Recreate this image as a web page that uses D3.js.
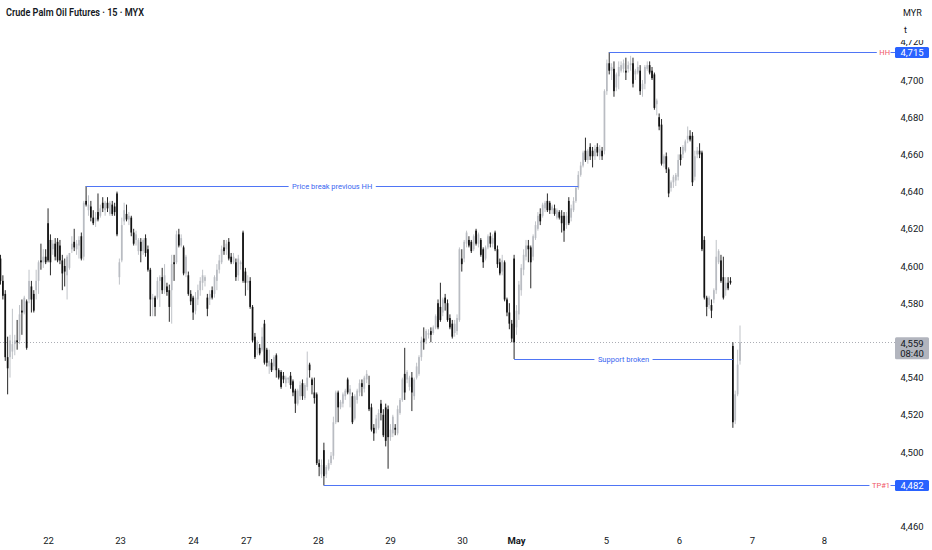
<!DOCTYPE html>
<html lang="en">
<head>
  <meta charset="UTF-8">
  <title>Crude Palm Oil Futures · 15 · MYX</title>
  <script src="https://d3js.org/d3.v7.min.js"></script>
  <style>
    body { margin: 0; background: #fff; }
    svg text { font-family: Roboto, "Noto Sans", sans-serif; }
    .axis path.domain { display: none; }
    .axis text { fill: #131722; font-size: 9.5px; }
  </style>
</head>
<body>
<svg id="chart" width="932" height="550"></svg>
<script>
  // 15 minute bars, each one [open, high, low, close] in MYR
  const apr21 = [
    [4604,4606,4590,4592],[4592,4595,4582,4584],[4585,4587,4549,4551],[4551,4562,4531,4545],[4551,4563,4540,4560],
    [4554,4577,4550,4558],[4558,4563,4552,4560],[4560,4571,4555,4559],[4560,4579,4558,4574],[4576,4582,4563,4575],
    [4575,4584,4574,4583],[4581,4582,4555,4556],[4582,4598,4580,4592],[4589,4592,4575,4582],[4585,4587,4575,4576],
    [4587,4598,4582,4592],[4592,4603,4585,4602],[4603,4612,4598,4602],[4602,4609,4599,4605],[4605,4609,4601,4602]
  ];
  const apr22 = [
    [4623,4631,4602,4603],[4614,4617,4595,4602],[4609,4614,4606,4612],[4612,4615,4603,4605],[4613,4615,4602,4603],
    [4611,4614,4601,4603],[4603,4606,4587,4596],[4600,4604,4589,4597],[4595,4606,4582,4605],[4599,4607,4598,4607],
    [4609,4616,4607,4612],[4613,4620,4608,4610],[4609,4614,4606,4612],[4611,4616,4604,4614],[4616,4618,4603,4604],
    [4605,4635,4603,4634],[4635,4643,4632,4633],[4630,4638,4627,4633],[4632,4635,4624,4626],[4626,4630,4622,4623],
    [4624,4629,4621,4626],[4629,4639,4624,4625],[4627,4633,4626,4631],[4634,4637,4629,4631],[4630,4635,4627,4634],
    [4634,4637,4629,4631],[4628,4635,4627,4634],[4633,4635,4627,4628],[4632,4634,4627,4629],[4639,4640,4616,4617]
  ];
  const apr23 = [
    [4594,4604,4590,4602],[4603,4626,4602,4622],[4624,4634,4622,4630],[4628,4633,4624,4625],[4625,4629,4622,4627],
    [4626,4627,4616,4618],[4618,4620,4611,4612],[4614,4619,4611,4617],[4608,4615,4606,4614],[4613,4615,4602,4608],
    [4608,4615,4606,4614],[4615,4617,4605,4607],[4609,4611,4597,4598],[4598,4599,4573,4582],[4582,4585,4573,4583],
    [4583,4584,4573,4578],[4583,4594,4582,4592],[4592,4595,4578,4594],[4594,4599,4585,4587],[4587,4601,4585,4595],
    [4589,4591,4584,4586],[4587,4590,4570,4578],[4587,4606,4569,4601],[4602,4606,4592,4601],[4602,4619,4601,4617],
    [4617,4620,4610,4611],[4611,4617,4610,4615],[4610,4611,4595,4596],[4596,4606,4594,4605],[4595,4597,4584,4585]
  ];
  const apr24 = [
    [4585,4587,4579,4581],[4583,4584,4571,4575],[4576,4586,4574,4583],[4582,4590,4579,4587],[4587,4594,4584,4592],
    [4591,4598,4587,4595],[4592,4595,4589,4594],[4583,4585,4573,4577],[4582,4587,4579,4585],[4587,4589,4582,4583],
    [4585,4595,4583,4594],[4592,4601,4587,4598],[4598,4606,4596,4603],[4602,4611,4601,4609],[4610,4614,4606,4608],
    [4609,4614,4606,4612],[4613,4615,4603,4604],[4605,4607,4601,4602],[4602,4607,4601,4605],[4602,4604,4592,4594],
    [4595,4606,4592,4604],[4601,4603,4598,4602]
  ];
  const apr27 = [
    [4618,4619,4591,4592],[4597,4599,4584,4591],[4591,4595,4587,4592],[4592,4594,4577,4578],[4578,4579,4559,4560],
    [4562,4564,4550,4551],[4555,4560,4552,4559],[4556,4558,4552,4553],[4555,4567,4554,4562],[4569,4571,4547,4548],
    [4555,4556,4546,4548],[4546,4555,4542,4549],[4548,4550,4543,4544],[4546,4552,4544,4551],[4552,4553,4540,4544],
    [4544,4545,4539,4540],[4543,4544,4534,4535],[4541,4543,4537,4539],[4537,4541,4535,4540],[4539,4540,4537,4540],
    [4541,4543,4534,4536],[4538,4539,4530,4532],[4533,4534,4521,4526],[4526,4534,4525,4533],[4530,4538,4528,4536],
    [4537,4539,4528,4530],[4529,4537,4528,4536],[4535,4554,4533,4540],[4547,4548,4540,4544],[4539,4540,4531,4536]
  ];
  const apr28 = [
    [4532,4540,4526,4529],[4531,4532,4493,4494],[4494,4496,4487,4492],[4488,4496,4486,4493],[4501,4505,4482,4487],
    [4488,4493,4486,4492],[4491,4496,4490,4494],[4494,4500,4493,4498],[4498,4519,4496,4516],[4516,4533,4515,4532],
    [4532,4533,4516,4524],[4524,4528,4523,4527],[4526,4532,4524,4531],[4530,4534,4528,4533],[4539,4540,4531,4532],
    [4531,4536,4524,4534],[4530,4532,4515,4516],[4518,4531,4517,4530],[4528,4534,4526,4533],[4532,4539,4530,4537],
    [4537,4539,4530,4535],[4534,4541,4532,4540],[4539,4544,4537,4542],[4536,4541,4522,4523],[4524,4526,4511,4512],
    [4513,4515,4506,4510],[4512,4520,4510,4518],[4513,4523,4512,4521],[4526,4528,4517,4521],[4520,4523,4508,4509],
    [4524,4526,4503,4506]
  ];
  const apr29 = [
    [4523,4525,4491,4508],[4508,4515,4506,4512],[4510,4520,4508,4519],[4513,4515,4509,4512],[4510,4525,4509,4523],
    [4521,4529,4520,4528],[4528,4540,4527,4539],[4542,4556,4528,4532],[4539,4544,4537,4543],[4535,4541,4533,4540],
    [4540,4543,4522,4532],[4530,4540,4528,4539],[4540,4548,4539,4546],[4542,4552,4541,4551],[4551,4562,4549,4560],
    [4561,4567,4555,4559],[4560,4566,4558,4565],[4563,4566,4561,4564],[4565,4567,4559,4563],[4564,4568,4563,4567],
    [4567,4574,4566,4573],[4580,4582,4566,4567],[4578,4591,4570,4571],[4575,4583,4573,4582],[4583,4585,4576,4580],
    [4580,4582,4570,4571],[4572,4574,4566,4567],[4569,4571,4561,4562],[4564,4571,4562,4569],[4565,4574,4563,4572]
  ];
  const apr30 = [
    [4571,4610,4570,4609],[4604,4609,4597,4601],[4604,4614,4602,4613],[4612,4619,4610,4618],[4614,4616,4610,4611],
    [4613,4614,4607,4608],[4609,4617,4608,4616],[4619,4620,4611,4612],[4612,4618,4610,4617],[4614,4615,4605,4606],
    [4609,4610,4599,4602],[4604,4611,4603,4610],[4610,4617,4609,4616],[4616,4618,4610,4612],[4612,4617,4610,4615],
    [4618,4619,4608,4609],[4609,4611,4599,4601],[4602,4604,4595,4596],[4597,4606,4595,4603],[4602,4603,4581,4582],
    [4582,4583,4573,4575],[4575,4580,4566,4569],[4569,4571,4559,4561]
  ];
  const may2 = [
    [4604,4606,4550,4559],[4567,4579,4563,4576],[4574,4592,4571,4590],[4587,4601,4584,4599],[4598,4609,4595,4606],
    [4605,4614,4603,4611],[4611,4614,4602,4609],[4610,4611,4588,4602],[4605,4617,4603,4616],[4615,4624,4614,4622],
    [4620,4629,4619,4627],[4628,4631,4622,4624],[4627,4634,4626,4633],[4631,4635,4629,4634],[4635,4639,4629,4630],
    [4634,4635,4628,4630],[4630,4633,4628,4632],[4631,4633,4627,4628],[4626,4631,4625,4630],[4629,4630,4625,4626],
    [4627,4630,4618,4623],[4627,4629,4613,4619],[4622,4629,4620,4627],[4635,4637,4622,4623],[4626,4633,4624,4631],
    [4630,4637,4629,4635],[4635,4643,4634,4642],[4642,4651,4641,4649],[4649,4656,4648,4654],[4654,4662,4653,4661],
    [4662,4669,4656,4657],[4657,4663,4655,4662],[4664,4666,4657,4659],[4662,4664,4653,4659],[4659,4665,4657,4663],
    [4664,4666,4659,4661],[4659,4665,4657,4663],[4662,4664,4657,4659]
  ];
  const may5 = [
    [4662,4695,4660,4694],[4694,4711,4692,4709],[4709,4715,4703,4705],[4705,4709,4700,4707],[4706,4710,4691,4694],
    [4696,4704,4694,4703],[4702,4710,4695,4707],[4705,4710,4704,4708],[4706,4711,4704,4709],[4705,4712,4700,4704],
    [4706,4710,4704,4708],[4708,4713,4705,4709],[4709,4712,4696,4698],[4703,4706,4700,4705],[4704,4710,4703,4707],
    [4705,4708,4692,4694],[4695,4700,4691,4698],[4698,4708,4695,4707],[4706,4710,4705,4708],[4708,4710,4703,4704],
    [4705,4707,4700,4701],[4703,4704,4684,4685],[4687,4690,4681,4689]
  ];
  const may6 = [
    [4680,4682,4673,4675],[4676,4679,4654,4655],[4655,4660,4653,4659],[4659,4661,4650,4652],[4652,4653,4637,4639],
    [4642,4646,4640,4645],[4645,4649,4642,4648],[4646,4650,4643,4649],[4648,4660,4646,4657],[4660,4664,4654,4657],
    [4660,4665,4658,4664],[4662,4668,4661,4667],[4668,4675,4666,4670],[4670,4673,4667,4668],[4670,4672,4643,4645],
    [4648,4662,4646,4659],[4660,4664,4658,4662],[4662,4666,4658,4660],[4661,4662,4608,4609],[4614,4616,4582,4583],
    [4583,4584,4573,4578],[4579,4584,4577,4583],[4579,4582,4572,4576],[4582,4588,4580,4587],[4587,4614,4585,4605],
    [4602,4609,4601,4608],[4603,4606,4591,4592],[4594,4605,4582,4583],[4587,4594,4584,4591],[4591,4594,4587,4588],
    [4592,4594,4590,4591]
  ];
  const may7 = [
    [4557,4559,4513,4516],[4517,4533,4515,4531],[4531,4555,4530,4547],[4549,4568,4547,4559]
  ];

  // date labels along the time axis, placed on bar numbers
  const dayLabels = ["22", "23", "24", "27", "28", "29", "30", "May", "5", "6", "7", "8"];
  const dayLabelBars = [20, 50.3, 81, 103.2, 133.5, 163.8, 194.1, 216.8, 254.6, 285.3, 316, 346.3];

  const priceTicks = [4460, 4480, 4500, 4520, 4540, 4560, 4580, 4600, 4620, 4640, 4660, 4680, 4700, 4720];

  // drawn trend notes: text, first bar, last bar, price
  const notes = [
    { text: "Price break previous HH", from: 36, to: 243, price: 4643 },
    { text: "Support broken", from: 216, to: 308, price: 4550 }
  ];
  // horizontal rays to the price scale
  const levels = [
    { tag: "HH", from: 256, price: 4715 },
    { tag: "TP#1", from: 136, price: 4482 }
  ];
  const lastPrice = 4559;
  const countdown = "08:40";

  const upColor = "#b9bcc2";
  const downColor = "#111111";
  const blue = "#2962ff";
  const lineBlue = "#4f75f5";

  const svg = d3.select("#chart");
  const scaleLeft = 895;   // left edge of the price scale labels

  const bars = [].concat(apr21, apr22, apr23, apr24, apr27, apr28, apr29, apr30, may2, may5, may6, may7)
    .map((d, i) => ({ i: i, o: d[0], h: d[1], l: d[2], c: d[3] }));

  const x = d3.scaleLinear().domain([0, bars.length - 1]).range([0.5, 740]);
  const y = d3.scaleLinear().domain([4460, 4720]).range([526.4, 42.8]);
  const crisp = v => Math.round(v) + 0.5;
  const bodyW = 1.7;

  // last price dotted line
  svg.append("line")
    .attr("x1", 0).attr("x2", scaleLeft)
    .attr("y1", crisp(y(lastPrice))).attr("y2", crisp(y(lastPrice)))
    .attr("stroke", "#9598a1").attr("stroke-width", 0.8)
    .attr("stroke-dasharray", "1,2");

  //candles
  const candles = svg.append("g");
  candles.selectAll("line.wick").data(bars)
    .join("line")
    .attr("class", "wick")
    .attr("x1", d => x(d.i)).attr("x2", d => x(d.i))
    .attr("y1", d => y(d.h)).attr("y2", d => y(d.l))
    .attr("stroke", d => d.c >= d.o ? upColor : downColor)
    .attr("stroke-width", 0.9);

  candles.selectAll("rect.body").data(bars)
    .join("rect")
    .attr("class", "body")
    .attr("x", d => x(d.i) - bodyW / 2)
    .attr("width", bodyW)
    .attr("y", d => y(Math.max(d.o, d.c)))
    .attr("height", d => Math.max(0.9, Math.abs(y(d.o) - y(d.c))))
    .attr("fill", d => d.c >= d.o ? upColor : downColor);

  const noteG = svg.append("g");
  notes.forEach(n => {
    const ly = crisp(y(n.price));
    noteG.append("line")
      .attr("x1", x(n.from)).attr("x2", x(n.to))
      .attr("y1", ly).attr("y2", ly)
      .attr("stroke", lineBlue).attr("stroke-width", 1);
    const t = noteG.append("text")
      .attr("x", (x(n.from) + x(n.to)) / 2)
      .attr("y", ly)
      .attr("dy", "0.35em")
      .attr("text-anchor", "middle")
      .attr("font-size", "7.5px")
      .attr("fill", "#3a66f0")
      .text(n.text);
    const b = t.node().getBBox();
    noteG.insert("rect", () => t.node())
      .attr("x", b.x - 3.5).attr("y", b.y)
      .attr("width", b.width + 7).attr("height", b.height)
      .attr("fill", "#fff");
  });

  const levelG = svg.append("g");
  levels.forEach(l => {
    const ly = crisp(y(l.price));
    levelG.append("line")
      .attr("x1", x(l.from)).attr("x2", scaleLeft)
      .attr("y1", ly).attr("y2", ly)
      .attr("stroke", lineBlue).attr("stroke-width", 1);
    const t = levelG.append("text")
      .attr("x", 890)
      .attr("y", ly)
      .attr("dy", "0.35em")
      .attr("text-anchor", "end")
      .attr("font-size", "7.5px")
      .attr("fill", "#f05566")
      .text(l.tag);
    const b = t.node().getBBox();
    levelG.insert("rect", () => t.node())
      .attr("x", b.x - 2.5).attr("y", b.y)
      .attr("width", b.width + 3).attr("height", b.height)
      .attr("fill", "#fff");
  });

  // price scale: labels covered by a price tag are left out, as the platform does
  const tagPrices = levels.map(l => l.price).concat([lastPrice]);
  const shownTicks = priceTicks.filter(t => t === 4720 || !tagPrices.some(p => Math.abs(p - t) < 5));
  const yAxis = svg.append("g")
    .attr("class", "axis")
    .attr("transform", "translate(912,0)")
    .call(d3.axisRight(y).tickValues(shownTicks).tickSize(0).tickFormat(d3.format(",")));
  yAxis.selectAll("text").attr("x", 0).attr("text-anchor", "middle");
  // top label sits half under the unit caption
  yAxis.selectAll("text").filter(d => d === 4720).attr("dy", "0.2em");

  // time scale
  const xAxis = svg.append("g")
    .attr("class", "axis")
    .attr("transform", "translate(0,541)")
    .call(d3.axisBottom(x).tickValues(dayLabelBars).tickSize(0)
      .tickFormat((d, i) => dayLabels[i]));
  xAxis.selectAll("text")
    .attr("y", 0).attr("dy", "0.35em")
    .attr("font-weight", (d, i) => dayLabels[i] === "May" ? 700 : 400);

  // unit label area on top of the scale
  svg.append("rect").attr("x", 862).attr("y", 0).attr("width", 70).attr("height", 40).attr("fill", "#fff");
  svg.append("text").attr("x", 903).attr("y", 15.5).attr("font-size", "9px").attr("fill", "#131722").text("MYR");
  svg.append("text").attr("x", 904).attr("y", 33).attr("font-size", "9px").attr("fill", "#131722").text("t");

  // level price tags
  levels.forEach(l => {
    const ly = crisp(y(l.price));
    svg.append("rect")
      .attr("x", scaleLeft).attr("y", ly - 5.5)
      .attr("width", 34).attr("height", 11).attr("rx", 1.5)
      .attr("fill", blue);
    svg.append("text")
      .attr("x", scaleLeft + 17).attr("y", ly)
      .attr("dy", "0.35em").attr("text-anchor", "middle")
      .attr("font-size", "9.5px").attr("fill", "#fff")
      .text(d3.format(",")(l.price));
  });

  // last price tag with bar countdown
  svg.append("rect")
    .attr("x", scaleLeft).attr("y", y(lastPrice) - 5)
    .attr("width", 34).attr("height", 22).attr("rx", 1.5)
    .attr("fill", "#b2b5be");
  svg.append("text")
    .attr("x", scaleLeft + 17).attr("y", y(lastPrice) + 1)
    .attr("dy", "0.35em").attr("text-anchor", "middle")
    .attr("font-size", "9.5px").attr("fill", "#131722")
    .text(d3.format(",")(lastPrice));
  svg.append("text")
    .attr("x", scaleLeft + 17).attr("y", y(lastPrice) + 11.5)
    .attr("dy", "0.35em").attr("text-anchor", "middle")
    .attr("font-size", "9.5px").attr("fill", "#131722")
    .text(countdown);

  // title
  svg.append("text")
    .attr("x", 6).attr("y", 15.5)
    .attr("font-size", "10.5px").attr("font-weight", 600)
    .attr("fill", "#131722")
    .attr("textLength", 138).attr("lengthAdjust", "spacingAndGlyphs")
    .text("Crude Palm Oil Futures · 15 · MYX");
</script>
</body>
</html>
